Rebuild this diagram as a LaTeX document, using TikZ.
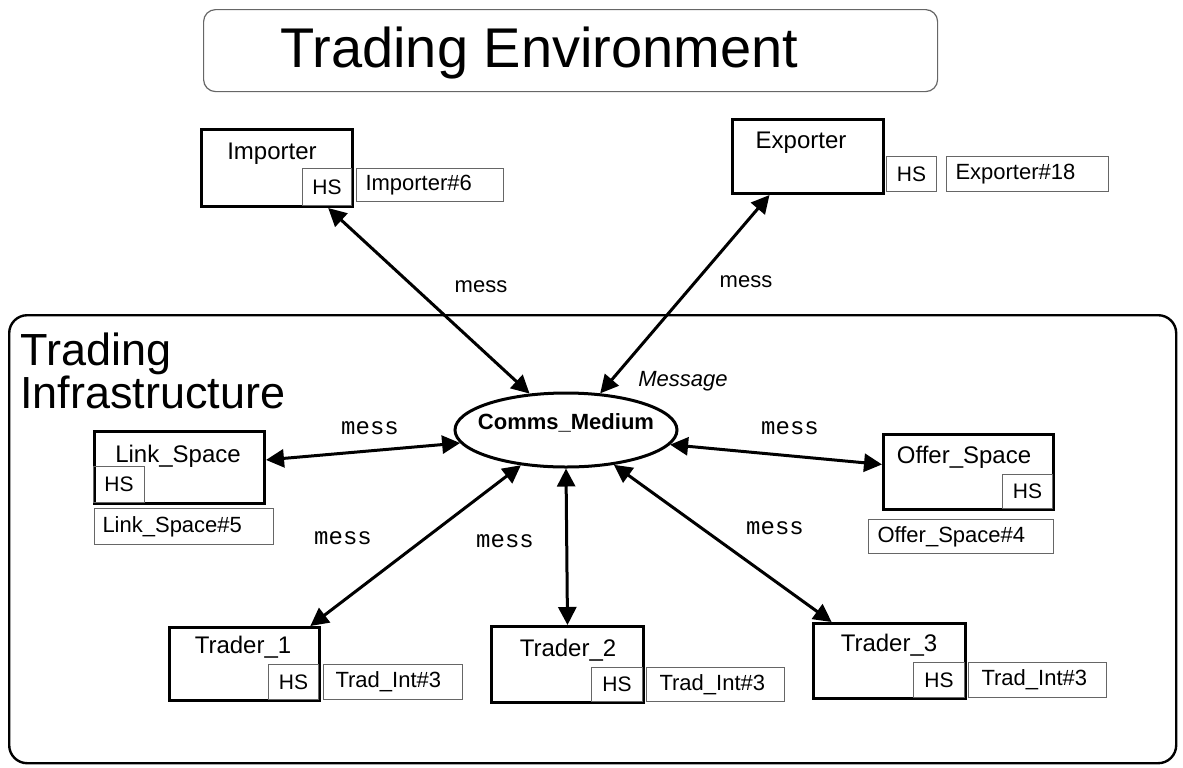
\documentclass[tikz,border=0pt]{standalone}
\usepackage{fontspec}
\setmainfont{Liberation Sans}
\setmonofont{Liberation Mono}
\usetikzlibrary{arrows.meta,shapes.geometric}
\begin{document}
\begin{tikzpicture}[x=0.5pt,y=-0.5pt,
  agent/.style={draw,line width=1.5pt,inner sep=0pt,anchor=north west},
  hsbox/.style={draw=black!60,line width=0.5pt,inner sep=0pt,anchor=north west,
                font=\fontsize{10.5}{12}\selectfont},
  tagbox/.style={draw=black!60,line width=0.5pt,inner ysep=0pt,anchor=north west,
                 align=left,font=\fontsize{11}{13}\selectfont},
  agentname/.style={inner sep=0pt,anchor=base,font=\fontsize{12}{14}\selectfont},
  sansmess/.style={inner sep=0pt,font=\fontsize{11}{13}\selectfont},
  ttmess/.style={inner sep=0pt,font=\ttfamily\fontsize{12}{14}\selectfont},
  link/.style={line width=1.5pt,
    {Triangle[length=9pt,width=9pt]}-{Triangle[length=9pt,width=9pt]}},
]
\useasboundingbox (0,0) rectangle (1183,767);

% environment title
\node[draw=black!60,line width=0.6pt,rounded corners=6pt,anchor=north west,
      minimum width=367pt,minimum height=41pt,inner sep=0pt] (env) at (203,9) {};
\node[inner sep=0pt,anchor=base west,font=\fontsize{28}{32}\selectfont]
      (envtitle) at (280,67) {Trading Environment};

% infrastructure container
\node[draw,line width=1.2pt,rounded corners=9pt,anchor=north west,
      minimum width=583.5pt,minimum height=224pt,inner sep=0pt] (infra) at (8,314) {};
\node[inner sep=0pt,anchor=base west,font=\fontsize{22.5}{26}\selectfont]
      (infra1) at (20,365) {Trading};
\node[inner sep=0pt,anchor=base west,font=\fontsize{22.5}{26}\selectfont]
      (infra2) at (20,408) {Infrastructure};

% communication medium
\node[draw,line width=1.5pt,ellipse,minimum width=111pt,minimum height=37pt,
      inner sep=0pt] (cm) at (566,430) {};
\node[inner sep=0pt,anchor=base,font=\bfseries\fontsize{11}{13}\selectfont]
      (cmname) at (566,429) {Comms\_Medium};
\node[inner sep=0pt,anchor=base,font=\itshape\fontsize{11}{13}\selectfont]
      (msg) at (683,386) {Message};

% Importer
\node[agent,minimum width=75.5pt,minimum height=38.5pt] (imp) at (200,128) {};
\node[agentname] (impname) at (272,159) {Importer};
\node[hsbox,minimum width=24.5pt,minimum height=18.5pt] (imphs) at (302,168) {HS};
\node[tagbox,text width=64.5pt,inner xsep=4.5pt,minimum height=16.5pt] (imptag) at (356,168) {Importer\#6};

% Exporter
\node[agent,minimum width=75.5pt,minimum height=37pt] (exp) at (731,118) {};
\node[agentname] (expname) at (801,148) {Exporter};
\node[hsbox,minimum width=25pt,minimum height=17.5pt] (exphs) at (886,156) {HS};
\node[tagbox,text width=72pt,inner xsep=4.5pt,minimum height=17.5pt] (exptag) at (946,156) {Exporter\#18};

% Link_Space
\node[agent,minimum width=85pt,minimum height=36pt] (ls) at (93,430) {};
\node[agentname] (lsname) at (178,462) {Link\_Space};
\node[hsbox,minimum width=25.5pt,minimum height=18pt] (lshs) at (93,466) {HS};
\node[tagbox,text width=81.5pt,inner xsep=4pt,minimum height=18pt] (lstag) at (94,508) {Link\_Space\#5};

% Offer_Space
\node[agent,minimum width=85pt,minimum height=37.5pt] (os) at (882,433) {};
\node[agentname] (osname) at (964,463) {Offer\_Space};
\node[hsbox,minimum width=25pt,minimum height=17pt] (oshs) at (1002,474) {HS};
\node[tagbox,text width=83.5pt,inner xsep=4.5pt,minimum height=17pt] (ostag) at (868,519) {Offer\_Space\#4};

% Traders
\node[agent,minimum width=75pt,minimum height=36.5pt] (t1) at (168,626) {};
\node[agentname] (t1name) at (243,653) {Trader\_1};
\node[hsbox,minimum width=25pt,minimum height=17.5pt] (t1hs) at (268,664) {HS};
\node[tagbox,text width=57.5pt,inner xsep=6pt,minimum height=17.5pt] (t1tag) at (323,664) {Trad\_Int\#3};

\node[agent,minimum width=76pt,minimum height=38pt] (t2) at (490,625) {};
\node[agentname] (t2name) at (568,656) {Trader\_2};
\node[hsbox,minimum width=25.5pt,minimum height=17pt] (t2hs) at (591,667) {HS};
\node[tagbox,text width=56pt,inner xsep=6.5pt,minimum height=17pt] (t2tag) at (646,667) {Trad\_Int\#3};

\node[agent,minimum width=76pt,minimum height=37.5pt] (t3) at (812,622) {};
\node[agentname] (t3name) at (889,651) {Trader\_3};
\node[hsbox,minimum width=25.5pt,minimum height=17.5pt] (t3hs) at (913,662) {HS};
\node[tagbox,text width=56pt,inner xsep=6.5pt,minimum height=17.5pt] (t3tag) at (968,662) {Trad\_Int\#3};

% message links
\draw[link] (imp.-38) -- (cm.135);
\draw[link] (exp.-135) -- (cm.47);
\draw[link] (ls.5) -- (cm.187);
\draw[link] (os.175) -- (cm.-8);
\draw[link] (t1.30) -- (cm.218);
\draw[link] (t2.90) -- (cm.270);
\draw[link] (t3.146) -- (cm.-36);

% link labels
\node[sansmess] (m1) at (481,287) {mess};
\node[sansmess] (m2) at (746,282) {mess};
\node[ttmess] (m3) at (370,428) {mess};
\node[ttmess] (m4) at (790,428) {mess};
\node[ttmess] (m5) at (343,538) {mess};
\node[ttmess] (m6) at (505,541) {mess};
\node[ttmess] (m7) at (775,528) {mess};
\end{tikzpicture}
\end{document}
